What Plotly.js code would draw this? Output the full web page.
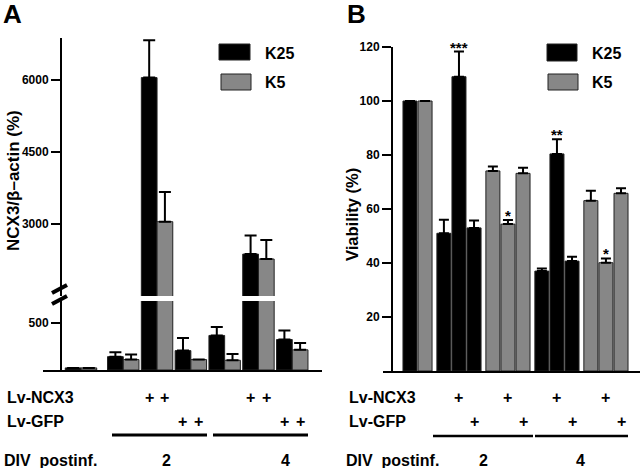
<!DOCTYPE html>
<html><head><meta charset="utf-8">
<script src="https://cdn.plot.ly/plotly-3.0.1.min.js"></script>
<style>html,body{margin:0;padding:0;background:#fff}#chart{width:640px;height:468px}</style>
</head><body><div id="chart"></div>
<script>
// ---------- data ----------
const conditions = ['ctrl', 'none', 'NCX3', 'GFP', 'none', 'NCX3', 'GFP'];
const divLabels = ['2', '4'];
const seriesNames = ['K25', 'K5'];

// Panel A: NCX3/β-actin (%)
const A_K25 = [22, 141, 6050, 205, 365, 2373, 322];
const A_K25_err = [null, 47, 780, 132, 89, 385, 96];
const A_K5 = [22, 110, 3048, 110, 103, 2270, 213];
const A_K5_err = [null, 53, 620, null, 67, 399, 71];
const A_ticksLow = [500];
const A_ticksHigh = [3000, 4500, 6000];

// Panel B: Viability (%)
const B_K25 = [100, 51, 109, 53, 37, 80.4, 40.7];
const B_K25_err = [null, 5, 9.3, 2.7, 1, 5.4, 1.6];
const B_K5 = [100, 74.1, 54.4, 73.2, 63.1, 40.1, 65.8];
const B_K5_err = [null, 1.6, 1.5, 2.1, 3.7, 1.6, 1.9];
const B_sig_K25 = ['', '', '***', '', '', '**', ''];
const B_sig_K5 = ['', '', '*', '', '', '*', ''];
const B_ticks = [20, 40, 60, 80, 100, 120];

// ---------- helpers ----------
const W = 640, H = 468;
const px = x => x / W;
const py = y => 1 - y / H;
const FONT = 'Liberation Sans, Arial, Helvetica, sans-serif';
const BLACK = '#000000', GREY = '#878787';
const f = (size) => ({family: FONT, size: size, color: '#000', weight: 'bold'});

// Panel A positions: ctrl pair, then two DIV groups of three pairs
const ctrlGapA = 0.25;
const xA = conditions.map((c, i) => i + (i > 0 ? ctrlGapA : 0));
const wA = 0.465;

// Panel B positions: ctrl pair, then triples per series and DIV
const grpGapB = 0.25;
function posB(series, j) {
  if (j === 0) return series === 0 ? 0 : 1;
  const div = j <= 3 ? 0 : 1, cond = (j - 1) % 3;
  const k = (series === 0 ? 2 : 5) + div * 6 + cond;
  const grp = (series === 0 ? 1 : 2) + div * 2;
  return k + grpGapB * grp;
}
const xB_K25 = B_K25.map((v, j) => posB(0, j));
const xB_K5 = B_K5.map((v, j) => posB(1, j));

// ---------- traces ----------
const traces = [];
const errStyle = (arr, w) => ({type: 'data', array: arr, arrayminus: arr.map(() => 0), symmetric: false,
  color: '#000', thickness: 2, width: w, visible: true});
['y', 'y2'].forEach(ya => {
  traces.push({type: 'bar', name: seriesNames[0], x: xA, y: A_K25, xaxis: 'x', yaxis: ya,
    width: wA, offset: -wA, marker: {color: BLACK, line: {color: '#222', width: 1}},
    error_y: errStyle(A_K25_err, 6), showlegend: false, hoverinfo: 'none'});
  traces.push({type: 'bar', name: seriesNames[1], x: xA, y: A_K5, xaxis: 'x', yaxis: ya,
    width: wA, offset: 0, marker: {color: GREY, line: {color: '#222', width: 1}},
    error_y: errStyle(A_K5_err, 6), showlegend: false, hoverinfo: 'none'});
});
traces.push({type: 'bar', name: seriesNames[0], x: xB_K25, y: B_K25, xaxis: 'x2', yaxis: 'y3',
  width: 0.93, marker: {color: BLACK, line: {color: '#222', width: 1}},
  error_y: errStyle(B_K25_err, 5), showlegend: false, hoverinfo: 'none'});
traces.push({type: 'bar', name: seriesNames[1], x: xB_K5, y: B_K5, xaxis: 'x2', yaxis: 'y3',
  width: 0.93, marker: {color: GREY, line: {color: '#222', width: 1}},
  error_y: errStyle(B_K5_err, 5), showlegend: false, hoverinfo: 'none'});

// ---------- annotations ----------
const ann = [];
const txt = (text, x, y, size, opts) => Object.assign({text: text, x: x, y: y, xref: 'paper', yref: 'paper',
  showarrow: false, font: f(size), xanchor: 'left', yanchor: 'middle'}, opts || {});
ann.push(txt('A', px(1), 1, 26, {yanchor: 'top', yshift: 3}));
ann.push(txt('B', px(345), 1, 26, {yanchor: 'top', yshift: 3}));
ann.push(txt('NCX3/β\u2013actin (%)', px(14), py(181), 17, {xanchor: 'center', textangle: -90}));
ann.push(txt('Viability (%)', px(352), py(215), 16.5, {xanchor: 'center', textangle: -90}));
// row labels
[5, 347].forEach(x0 => {
  ann.push(txt('Lv-NCX3', px(x0), py(397), 16));
  ann.push(txt('Lv-GFP', px(x0), py(421), 16));
  ann.push(txt('DIV  postinf.', px(x0 - 3), py(460), 16));
});
ann.push(txt(divLabels[0], px(166), py(460), 16, {xanchor: 'center'}));
ann.push(txt(divLabels[1], px(285), py(460), 16, {xanchor: 'center'}));
ann.push(txt(divLabels[0], px(483), py(460), 16, {xanchor: 'center'}));
ann.push(txt(divLabels[1], px(580), py(460), 16, {xanchor: 'center'}));
// plus signs
conditions.forEach((c, i) => {
  if (c === 'ctrl' || c === 'none') return;
  const yy = c === 'NCX3' ? py(397) : py(421);
  [xA[i] - wA / 2, xA[i] + wA / 2].forEach(xx => {
    ann.push({text: '+', x: xx, y: yy, xref: 'x', yref: 'paper', showarrow: false, font: f(16), xanchor: 'center', yanchor: 'middle'});
  });
  [xB_K25[i], xB_K5[i]].forEach(xx => {
    ann.push({text: '+', x: xx, y: yy, xref: 'x2', yref: 'paper', showarrow: false, font: f(16), xanchor: 'center', yanchor: 'middle'});
  });
});
// significance stars
[[B_sig_K25, xB_K25, B_K25, B_K25_err], [B_sig_K5, xB_K5, B_K5, B_K5_err]].forEach(([sig, xs, vals, errs]) => {
  sig.forEach((s, j) => {
    if (!s) return;
    ann.push({text: s, x: xs[j], y: vals[j] + (errs[j] || 0), xref: 'x2', yref: 'y3', showarrow: false,
      font: f(15), xanchor: 'center', yanchor: 'bottom', yshift: -6});
  });
});
// legend texts
[263, 590].forEach(x0 => {
  ann.push(txt(seriesNames[0], px(x0), py(53), 16));
  ann.push(txt(seriesNames[1], px(x0), py(82), 16));
});

// ---------- shapes ----------
const shapes = [];
const line = (x0, y0, x1, y1, w) => ({type: 'line', xref: 'paper', yref: 'paper', x0: px(x0), y0: py(y0), x1: px(x1), y1: py(y1), line: {color: '#000', width: w}});
const rect = (x0, y0, x1, y1, fill) => ({type: 'rect', xref: 'paper', yref: 'paper', x0: px(x0), y0: py(y0), x1: px(x1), y1: py(y1), fillcolor: fill, line: {color: '#222', width: 1}});
// group underlines
shapes.push(line(112, 435, 207, 435, 3));
shapes.push(line(213, 435, 308, 435, 3));
shapes.push(line(433, 436, 533, 436, 2.5));
shapes.push(line(535, 436, 628, 436, 2.5));
// axis break marks
shapes.push(line(52, 293, 67, 285, 4));
shapes.push(line(52, 304, 67, 296, 4));
// legend boxes
shapes.push(rect(219, 44, 250, 60, BLACK));
shapes.push(rect(221, 74, 251, 90, GREY));
shapes.push(rect(547, 44, 577, 61, BLACK));
shapes.push(rect(548, 74, 578, 90, GREY));

// ---------- layout ----------
const yCommon = {anchor: 'free', showline: true, linewidth: 2, linecolor: '#000', ticks: 'outside', ticklen: 9,
  tickwidth: 2, tickcolor: '#000', showgrid: false, zeroline: false, tickfont: f(12), fixedrange: true};
const xCommon = {showline: true, linewidth: 2, linecolor: '#000', ticks: '', showticklabels: false,
  showgrid: false, zeroline: false, fixedrange: true};
const layout = {
  width: W, height: H, margin: {l: 0, r: 0, t: 0, b: 0}, paper_bgcolor: '#fff', plot_bgcolor: 'rgba(0,0,0,0)',
  barmode: 'overlay', showlegend: false, font: {family: FONT},
  xaxis: Object.assign({}, xCommon, {domain: [px(43), px(322)], range: [-1.124, 7.13], anchor: 'y'}),
  yaxis: Object.assign({}, yCommon, {domain: [py(370), py(301)], range: [0, 729], position: px(61), tickvals: A_ticksLow}),
  yaxis2: Object.assign({}, yCommon, {domain: [py(296), py(38)], range: [1500, 6875], position: px(61), tickvals: A_ticksHigh}),
  xaxis2: Object.assign({}, xCommon, {domain: [px(383), 1], range: [-1.79, 15.26], anchor: 'y3'}),
  yaxis3: Object.assign({}, yCommon, {domain: [py(371), py(47)], range: [0, 120], position: px(392), tickvals: B_ticks}),
  annotations: ann, shapes: shapes
};
Plotly.newPlot('chart', traces, layout, {staticPlot: true, displayModeBar: false});
</script></body></html>
